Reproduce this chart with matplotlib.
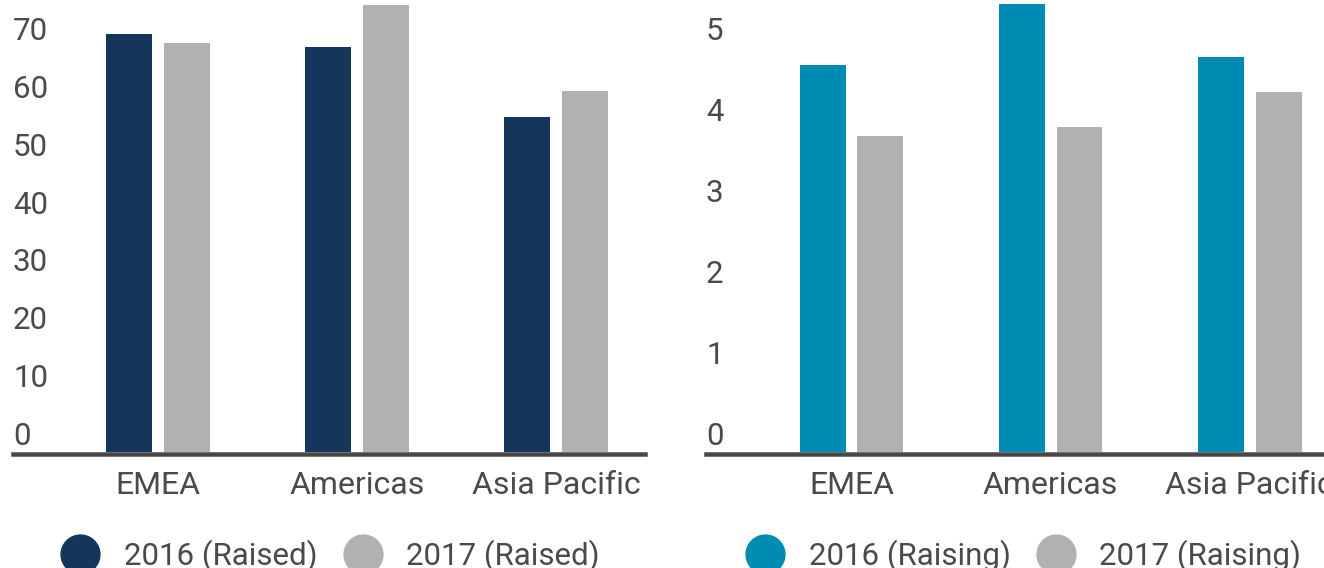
import numpy as np
import matplotlib
matplotlib.use("Agg")
from matplotlib import pyplot as plt
from matplotlib.lines import Line2D
from matplotlib import transforms

plt.rcParams['font.family'] = ['Roboto', 'DejaVu Sans']

regions = ['EMEA', 'Americas', 'Asia Pacific']

raised_2016 = [72.2, 70.0, 57.9]
raised_2017 = [70.6, 77.3, 62.4]
raised_ticks = [0, 10, 20, 30, 40, 50, 60, 70]

raising_2016 = [4.78, 5.53, 4.88]
raising_2017 = [3.90, 4.01, 4.44]
raising_ticks = [0, 1, 2, 3, 4, 5]

NAVY = '#15365b'
TEAL = '#008bb2'
GRAY = '#b3b0b1'
TEXT = '#4a4a4a'
AXIS = '#474747'

W, H = 1324, 568
fig = plt.figure(figsize=(W / 100, H / 100), dpi=100)


def panel(left_px, right_px, xlim, ylim, s1, s2, c1, ticks, labels, leg_x):
    ax = fig.add_axes([left_px / W, (H - 452) / H, (right_px - left_px) / W, 452 / H])
    x = np.arange(len(regions))
    ax.bar(x - 0.1456, s1, width=0.231, color=c1)
    ax.bar(x + 0.1456, s2, width=0.231, color=GRAY)
    ax.set_xlim(*xlim)
    ax.set_ylim(*ylim)
    for side in ['top', 'left', 'right']:
        ax.spines[side].set_visible(False)
    ax.spines['bottom'].set_linewidth(3.24)
    ax.spines['bottom'].set_color(AXIS)
    ax.spines['bottom'].set_position(('outward', 1.66))
    ax.set_xticks(x)
    ax.set_xticklabels(regions, fontsize=23, color=TEXT)
    ax.tick_params(axis='x', length=0, pad=12)
    ax.set_yticks([])
    off = transforms.ScaledTranslation(0, 7 / 100, fig.dpi_scale_trans)
    trans = transforms.blended_transform_factory(ax.transAxes, ax.transData) + off
    for t in ticks:
        ax.text(0, t, str(t), transform=trans, ha='left', va='baseline',
                fontsize=22.5, color=TEXT, clip_on=False)
    handles = [Line2D([], [], marker='o', linestyle='', markersize=28, color=c1),
               Line2D([], [], marker='o', linestyle='', markersize=28, color=GRAY)]
    ax.legend(handles, labels, ncol=2, frameon=False, fontsize=22.5,
              loc='lower left', bbox_to_anchor=(leg_x / W, -0.007),
              bbox_transform=fig.transFigure, borderpad=0, borderaxespad=0,
              handlelength=1.3, handletextpad=0.74, columnspacing=0.8,
              labelcolor=TEXT)
    return ax


panel(13, 645, (-0.728, 2.445), (0, 78.1), raised_2016, raised_2017, NAVY,
      raised_ticks, ['2016 (Raised)', '2017 (Raised)'], 60)
panel(706, 1324, (-0.731, 2.374), (0, 5.58), raising_2016, raising_2017, TEAL,
      raising_ticks, ['2016 (Raising)', '2017 (Raising)'], 745)

fig.savefig('out.png', dpi=100)
